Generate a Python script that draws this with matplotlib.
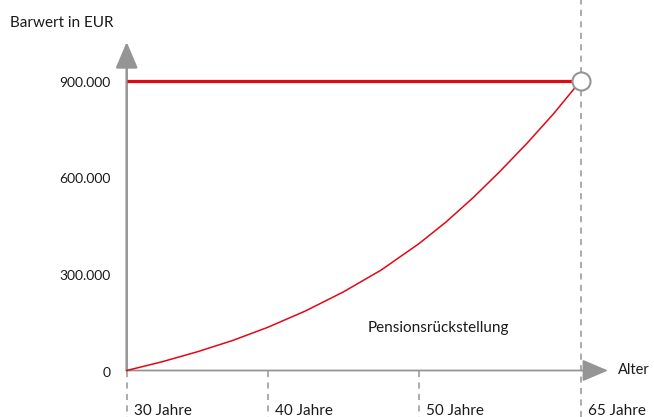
import numpy as np
import matplotlib
matplotlib.use("Agg")
import matplotlib.pyplot as plt

## data
tick_ages = [30, 40, 50, 65]
tick_labels = ["30 Jahre", "40 Jahre", "50 Jahre", "65 Jahre"]
y_ticks = [0, 300000, 600000, 900000]

ages = [30, 32.5, 35, 37.5, 40, 42.5, 45, 47.5, 50, 52.5, 55, 57.5, 60, 62.5, 65]
reserve = [0, 27000, 58000, 93000, 134000, 185000, 244000, 312000, 394000,
           461000, 536000, 618000, 705000, 798000, 900000]
barwert_ages = [30, 65]
barwert = [900000, 900000]

## layout: the age axis is schematic, ticks are not evenly spaced
tick_px = [0.0, 141.0, 292.3, 454.0]
W, H = 654, 417
X0_PX = 126.7          # pixel of age 30
Y0_PX = 370.5          # pixel (from top) of value 0
Y900_PX = 80.7         # pixel of 900.000

RED = "#e30613"
GREY = "#959595"
TXT = "#1a1a1a"

plt.rcParams["font.family"] = ["Lato", "DejaVu Sans"]

lo_slope = (tick_px[1] - tick_px[0]) / (tick_ages[1] - tick_ages[0])
hi_slope = (tick_px[-1] - tick_px[-2]) / (tick_ages[-1] - tick_ages[-2])


def age_to_px(x):
    x = np.asarray(x, dtype=float)
    mid = np.interp(x, tick_ages, tick_px)
    return np.where(x < tick_ages[0], tick_px[0] + (x - tick_ages[0]) * lo_slope,
                    np.where(x > tick_ages[-1], tick_px[-1] + (x - tick_ages[-1]) * hi_slope, mid))


def px_to_age(u):
    u = np.asarray(u, dtype=float)
    mid = np.interp(u, tick_px, tick_ages)
    return np.where(u < tick_px[0], tick_ages[0] + (u - tick_px[0]) / lo_slope,
                    np.where(u > tick_px[-1], tick_ages[-1] + (u - tick_px[-1]) / hi_slope, mid))


fig = plt.figure(figsize=(W / 100, H / 100), dpi=100)
ax = fig.add_axes([0, 0, 1, 1])
ax.set_xscale("function", functions=(age_to_px, px_to_age))
ax.set_xlim(float(px_to_age(-X0_PX)), float(px_to_age(W - X0_PX)))
per_px = 900000 / (Y0_PX - Y900_PX)
ax.set_ylim(-(H - Y0_PX) * per_px, Y0_PX * per_px)
ax.axis("off")

y_bottom = ax.get_ylim()[0]
y_top = ax.get_ylim()[1]
y_tip = (Y0_PX - 42) * per_px
x_tip = float(px_to_age(608 - X0_PX))

# dashed guides
for a in tick_ages[:-1]:
    ax.plot([a, a], [0, y_bottom], color=GREY, lw=1.1, ls=(0, (4, 3.5)))
ax.plot([tick_ages[-1]] * 2, [y_bottom, y_top], color=GREY, lw=1.1, ls=(0, (4, 3.5)))

# axes with arrows
arrow = dict(arrowstyle="-|>,head_length=0.8,head_width=0.34", color=GREY,
             shrinkA=0, shrinkB=0, mutation_scale=20)
ax.annotate("", xy=(tick_ages[0], y_tip), xytext=(tick_ages[0], 0),
            arrowprops=dict(arrow, lw=1.8))
ax.annotate("", xy=(x_tip, 0), xytext=(tick_ages[0], 0),
            arrowprops=dict(arrow, lw=1.3))

# series
ax.plot(barwert_ages, barwert, color=RED, lw=2.3, solid_capstyle="butt", zorder=3)
ax.plot(ages, reserve, color=RED, lw=1.1, zorder=3, solid_joinstyle="round")
ax.plot([barwert_ages[-1]], [barwert[-1]], "o", ms=13, mfc="white", mec=GREY,
        mew=1.5, zorder=4)

# labels
for v in y_ticks:
    lab = f"{v:,}".replace(",", ".")
    ax.annotate(lab, xy=(tick_ages[0], v), xytext=(-11.5, -1.5), textcoords="offset points",
                ha="right", va="center", fontsize=10, color=TXT)
for a, lab in zip(tick_ages, tick_labels):
    ax.annotate(lab, xy=(a, 0), xytext=(5, -29), textcoords="offset points",
                ha="left", va="center", fontsize=11, color=TXT)
ax.annotate("Alter", xy=(x_tip, 0), xytext=(7.5, 0), textcoords="offset points",
            ha="left", va="center", fontsize=10.5, color=TXT)
ax.text(46.6, 132000, "Pensionsrückstellung", ha="left", va="center",
        fontsize=11, color=TXT)
fig.text(10 / W, 1 - 23 / H, "Barwert in EUR", ha="left", va="center",
         fontsize=11, color=TXT)

fig.savefig("out.png", dpi=100)
